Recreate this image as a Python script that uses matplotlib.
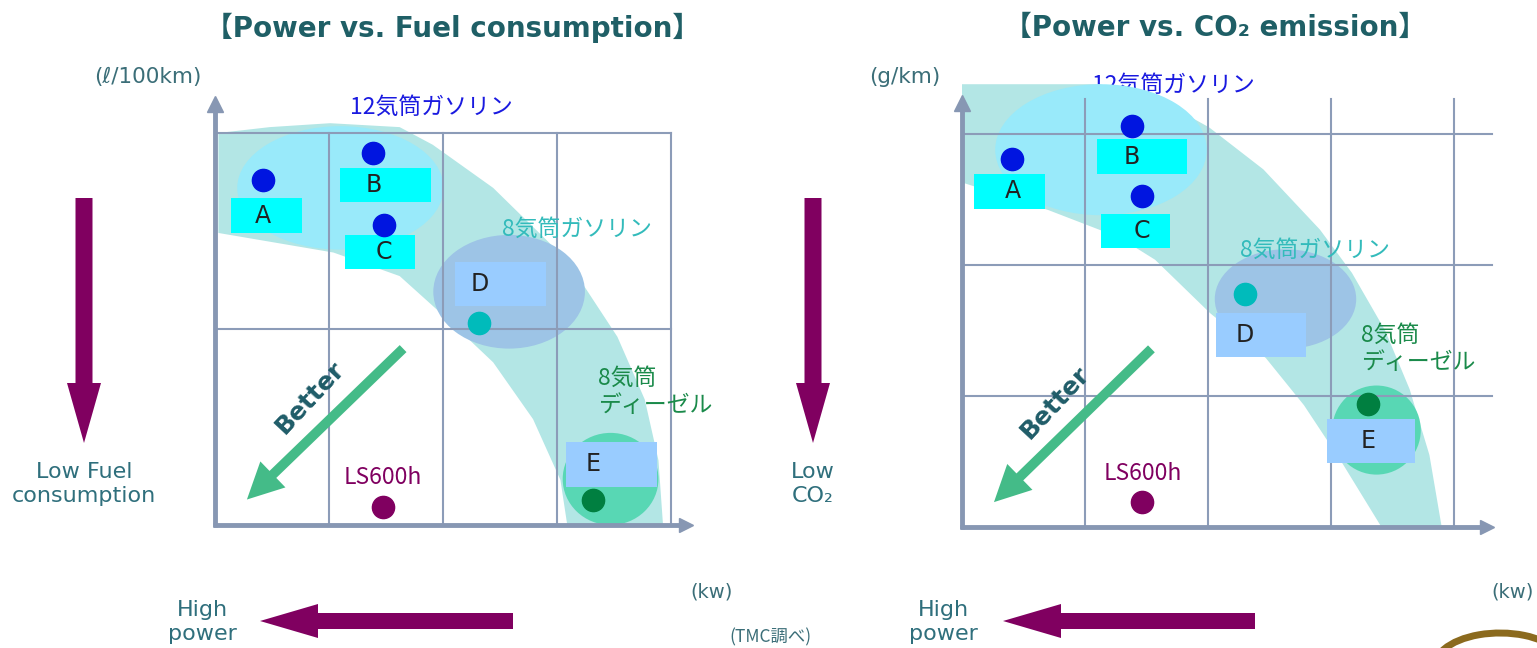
import numpy as np
import matplotlib.pyplot as plt
from matplotlib.patches import Ellipse, Rectangle, Polygon, FancyArrow, FancyArrowPatch, Arc

plt.rcParams['font.family'] = ['DejaVu Sans', 'Noto Sans CJK JP']

# ---- data (grid units: 1 unit = one grid cell) ----
cars = ['A', 'B', 'C', 'D', 'E']
dot_colors = ['#0015E0', '#0015E0', '#0015E0', '#00BBBB', '#007F40']
box_colors = ['#00FFFF', '#00FFFF', '#00FFFF', '#99CCFF', '#99CCFF']

fuel_power = [0.42, 1.39, 1.48, 2.32, 3.32]
fuel_value = [1.76, 1.90, 1.53, 1.03, 0.13]
co2_power = [0.41, 1.38, 1.46, 2.30, 3.30]
co2_value = [2.81, 3.06, 2.53, 1.78, 0.94]

ls600h_fuel = [1.47, 0.09]
ls600h_co2 = [1.46, 0.19]

# teal band boundaries
fuel_band_outer = [(0.03, 2.00), (0.48, 2.03), (1.01, 2.05), (1.62, 2.03), (1.91, 1.94), (2.44, 1.72),
                   (3.09, 1.35), (3.53, 0.96), (3.77, 0.64), (3.89, 0.33), (3.93, 0.00)]
fuel_band_inner = [(0.03, 1.49), (1.04, 1.39), (1.62, 1.27), (2.04, 1.05), (2.44, 0.83),
                   (2.79, 0.54), (3.03, 0.23), (3.09, 0.00)]
co2_band_outer = [(0.00, 3.38), (1.12, 3.38), (1.61, 3.26), (2.01, 3.05), (2.45, 2.73), (2.91, 2.27),
                  (3.17, 1.94), (3.44, 1.50), (3.64, 1.05), (3.80, 0.55), (3.90, 0.00)]
co2_band_inner = [(0.00, 2.63), (0.70, 2.42), (1.28, 2.21), (1.57, 2.04), (2.02, 1.63),
                  (2.47, 1.29), (2.78, 0.93), (3.09, 0.49), (3.41, 0.00)]

W, H = 1537, 648
fig = plt.figure(figsize=(W / 100, H / 100), dpi=100)

# background axes in pixel units for the outer decorations
bg = fig.add_axes([0, 0, 1, 1])
bg.set_xlim(0, W)
bg.set_ylim(H, 0)
bg.axis('off')

axis_col = '#8797B3'
grid_col = '#8C9CB8'
purple = '#800060'
label_col = '#2F6F7C'
unit_col = '#3B6E78'


def make_panel(rect, origin, unit):
    x0, y0, x1, y1 = rect
    ox, oy = origin
    ux, uy = unit
    ax = fig.add_axes([x0 / W, 1 - y1 / H, (x1 - x0) / W, (y1 - y0) / H])
    ax.set_xlim((x0 - ox) / ux, (x1 - ox) / ux)
    ax.set_ylim((oy - y1) / uy, (oy - y0) / uy)
    ax.axis('off')
    ax.patch.set_alpha(0)
    return ax


def draw_panel(ax, unit, xs, ys, ls_xy, band_outer, band_inner, blobs, offsets, texts,
               vlines, vtop, hlines, hright, xend, yend, better):
    ux, uy = unit
    band = Polygon(band_outer + band_inner[::-1], closed=True, facecolor='#B3E6E5',
                   edgecolor='none', zorder=1)
    ax.add_patch(band)
    for (cx, cy, w, h, col) in blobs:
        ax.add_patch(Ellipse((cx, cy), w, h, facecolor=col, edgecolor='none', zorder=2))

    # grid
    for gx in vlines:
        ax.plot([gx, gx], [0, vtop], color=grid_col, lw=1.5, zorder=3)
    for gy in hlines:
        ax.plot([0, hright], [gy, gy], color=grid_col, lw=1.5, zorder=3)

    # axes with arrowheads
    ax.plot([0, 0], [-0.012, yend - 0.04], color=axis_col, lw=3.5, zorder=4, solid_capstyle='butt')
    ax.plot([0], [yend - 0.04], marker='^', ms=11, color=axis_col, zorder=4)
    ax.plot([-0.02, xend - 0.1], [0, 0], color=axis_col, lw=3.5, zorder=4, solid_capstyle='butt')
    ax.plot([xend - 0.1], [0], marker='>', ms=10, color=axis_col, zorder=4)

    # Better arrow
    (bx0, by0), (bx1, by1), (tx, ty) = better
    ax.add_patch(FancyArrowPatch((bx0, by0), (bx1, by1),
                                 arrowstyle='simple,head_length=26,head_width=26,tail_width=7',
                                 color='#44BB88', lw=0, zorder=5, shrinkA=0, shrinkB=0))
    ax.text(tx, ty, 'Better', rotation=47, ha='center', va='center', fontsize=18,
            fontweight='bold', color='#1F5C68', zorder=6)

    # label boxes and dots
    for name, x, y, (l, r, t, b), bc, dc in zip(cars, xs, ys, offsets, box_colors, dot_colors):
        ax.add_patch(Rectangle((x + l / ux, y - b / uy), (r - l) / ux, (b - t) / uy,
                               facecolor=bc, edgecolor='none', zorder=6))
        ax.text(x, y - (t + b) / 2 / uy, name, ha='center', va='center', fontsize=17,
                family=['Liberation Sans Narrow', 'DejaVu Sans'], color='#222222', zorder=7)
        ax.plot([x], [y], 'o', ms=16, color=dc, zorder=7)
    ax.plot([ls_xy[0]], [ls_xy[1]], 'o', ms=16, color=purple, zorder=7)

    for (txt, x, y, col, ha, z) in texts:
        ax.text(x, y, txt, ha=ha, va='center', fontsize=16.5, color=col, zorder=z,
                family=['Noto Sans CJK JP'], linespacing=1.25)


# ---- left panel: power vs fuel consumption ----
u1 = (114, 196)
ax1 = make_panel((140, 60, 720, 560), (215, 525), u1)
draw_panel(
    ax1, u1, fuel_power, fuel_value, ls600h_fuel, fuel_band_outer, fuel_band_inner,
    blobs=[(1.10, 1.72, 1.81, 0.63, '#99EAFA'),
           (2.58, 1.19, 1.33, 0.58, '#9DC4E6'),
           (3.47, 0.235, 0.84, 0.47, '#58D7B4')],
    offsets=[(-32, 39, 18, 53), (-33, 58, 15, 49), (-39, 31, 10, 44), (-24, 67, -61, -17), (-27, 64, -58, -13)],
    texts=[('12気筒ガソリン', 1.90, 2.13, '#1A1AE0', 'center', 8),
           ('8気筒ガソリン', 2.52, 1.51, '#33BBBB', 'left', 8),
           ('8気筒\nディーゼル', 3.36, 0.68, '#1A8A4A', 'left', 8),
           ('LS600h', 1.47, 0.24, purple, 'center', 8)],
    vlines=[1, 2, 3, 4], vtop=2.0, hlines=[1, 2], hright=4.0, xend=4.23, yend=2.19,
    better=((1.65, 0.90), (0.28, 0.13), (0.83, 0.65)))

# ---- right panel: power vs CO2 ----
u2 = (123, 131)
ax2 = make_panel((880, 60, 1537, 560), (962, 527), u2)
draw_panel(
    ax2, u2, co2_power, co2_value, ls600h_co2, co2_band_outer, co2_band_inner,
    blobs=[(1.13, 2.88, 1.72, 1.00, '#99EAFA'),
           (2.63, 1.74, 1.15, 0.76, '#9DC4E6'),
           (3.37, 0.74, 0.72, 0.68, '#58D7B4')],
    offsets=[(-38, 33, 15, 50), (-35, 55, 13, 48), (-41, 28, 18, 52), (-29, 61, 19, 63), (-41, 47, 15, 59)],
    texts=[('12気筒ガソリン', 1.72, 3.37, '#1A1AE0', 'center', 0.5),
           ('8気筒ガソリン', 2.26, 2.11, '#33BBBB', 'left', 8),
           ('8気筒\nディーゼル', 3.24, 1.36, '#1A8A4A', 'left', 8),
           ('LS600h', 1.47, 0.41, purple, 'center', 8)],
    vlines=[1, 2, 3, 4], vtop=3.27, hlines=[1, 2, 3], hright=4.31, xend=4.37, yend=3.28,
    better=((1.54, 1.36), (0.26, 0.19), (0.76, 0.95)))

# ---- titles and outer labels ----
title_kw = dict(ha='center', va='center', fontsize=20, fontweight='bold', color='#1F5F66',
                family=['DejaVu Sans', 'Noto Sans CJK JP'])
bg.text(453, 28, '【Power vs. Fuel consumption】', **title_kw)
bg.text(1215, 28, '【Power vs. CO₂ emission】', **title_kw)

bg.text(148, 77, '(ℓ/100km)', ha='center', va='center', fontsize=15.5, color=unit_col)
bg.text(905, 77, '(g/km)', ha='center', va='center', fontsize=15.5, color=unit_col)
bg.text(712, 592, '(kw)', ha='center', va='center', fontsize=14, color=unit_col)
bg.text(1513, 592, '(kw)', ha='center', va='center', fontsize=14, color=unit_col)
bg.text(770, 637, '(TMC調べ)', ha='center', va='center', fontsize=12.5, color=unit_col,
        family=['Noto Sans CJK JP'])

side_kw = dict(ha='center', va='center', fontsize=16, color=label_col, linespacing=1.25)
bg.text(84, 484, 'Low Fuel\nconsumption', **side_kw)
bg.text(813, 484, 'Low\nCO₂', **side_kw)
bg.text(202, 622, 'High\npower', **side_kw)
bg.text(943, 622, 'High\npower', **side_kw)

# big purple direction arrows
for x in [84, 813]:
    bg.add_patch(FancyArrow(x, 198, 0, 245, width=17, head_width=34, head_length=60,
                            length_includes_head=True, color=purple, lw=0))
for x0, x1 in [(513, 260), (1255, 1003)]:
    bg.add_patch(FancyArrow(x0, 621, x1 - x0, 0, width=16, head_width=34, head_length=58,
                            length_includes_head=True, color=purple, lw=0))

# partial logo at the bottom right corner (y axis is inverted here)
bg.add_patch(Arc((1500, 666), 130, 66, theta1=175, theta2=345, color='#8B6A1E', lw=5))

fig.savefig('out.png', dpi=100)
